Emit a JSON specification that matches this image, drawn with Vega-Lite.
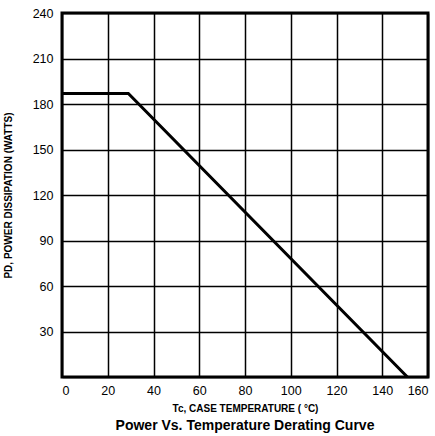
{
  "$schema": "https://vega.github.io/schema/vega-lite/v6.json",
  "autosize": "none",
  "width": 366,
  "height": 364,
  "padding": {"left": 62, "top": 13, "right": 7, "bottom": 59},
  "background": "white",
  "title": {
    "text": "Power Vs. Temperature Derating Curve",
    "orient": "bottom",
    "anchor": "middle",
    "font": "Liberation Sans",
    "fontSize": 14,
    "fontWeight": "bold",
    "color": "black",
    "offset": 5
  },
  "data": {
    "values": [
      {"temp": 0, "power": 187},
      {"temp": 29, "power": 187},
      {"temp": 151, "power": 0}
    ]
  },
  "mark": {"type": "line", "color": "black", "strokeWidth": 3, "clip": true},
  "encoding": {
    "x": {
      "field": "temp",
      "type": "quantitative",
      "scale": {"domain": [0, 160], "nice": false, "zero": false},
      "axis": {
        "values": [0, 20, 40, 60, 80, 100, 120, 140, 160],
        "title": "Tc, CASE TEMPERATURE ( °C)",
        "grid": true,
        "gridColor": "black",
        "gridOpacity": 1,
        "gridWidth": 1.5,
        "ticks": false,
        "domain": false,
        "labelPadding": 7,
        "labelFont": "Liberation Sans",
        "labelFontSize": 12.5,
        "labelColor": "black",
        "titleFont": "Liberation Sans",
        "titleFontSize": 10,
        "titleFontWeight": "bold",
        "titleColor": "black",
        "titlePadding": 7
      }
    },
    "y": {
      "field": "power",
      "type": "quantitative",
      "scale": {"domain": [0, 240], "nice": false},
      "axis": {
        "values": [0, 30, 60, 90, 120, 150, 180, 210, 240],
        "labelExpr": "datum.value == 0 ? '' : datum.label",
        "title": "PD, POWER DISSIPATION (WATTS)",
        "grid": true,
        "gridColor": "black",
        "gridOpacity": 1,
        "gridWidth": 1.5,
        "ticks": false,
        "domain": false,
        "labelPadding": 9,
        "labelFont": "Liberation Sans",
        "labelFontSize": 12.5,
        "labelColor": "black",
        "titleFont": "Liberation Sans",
        "titleFontSize": 10,
        "titleFontWeight": "bold",
        "titleColor": "black",
        "titlePadding": 19
      }
    }
  },
  "config": {
    "view": {"stroke": "black", "strokeWidth": 3}
  }
}
